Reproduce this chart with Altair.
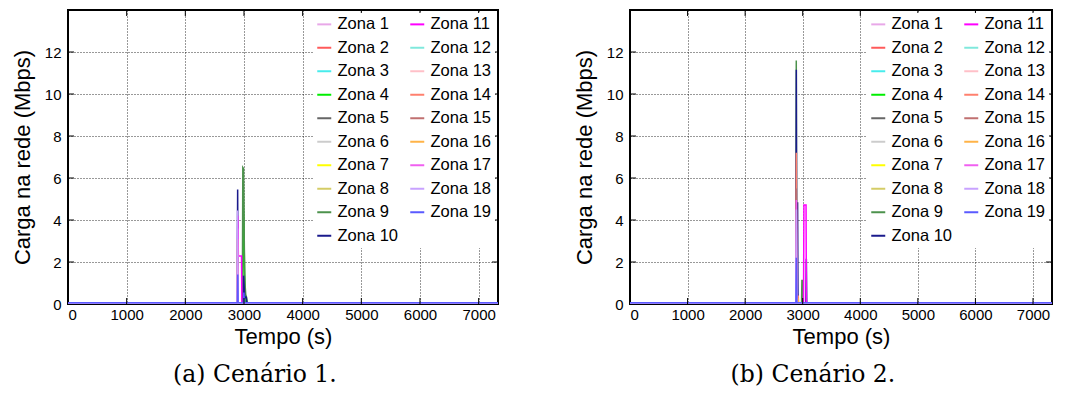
import altair as alt
import pandas as pd

# Eixos
T_MAX = 7330
X_TICKS = [0, 1000, 2000, 3000, 4000, 5000, 6000, 7000]
Y_TICKS = [0, 2, 4, 6, 8, 10, 12]
Y_MAX = 14

ZONAS = [f"Zona {i}" for i in range(1, 20)]
CORES = [
    "#e8a8e8", "#ff5a5a", "#48ecec", "#00ee00", "#666666",
    "#cccccc", "#ffff00", "#d4cc66", "#4c924c", "#1a1a8c",
    "#ff00ff", "#80e8dc", "#ffc0c8", "#ff806e", "#c07070",
    "#ffb347", "#f060f0", "#c8a2ff", "#5a5aff",
]

# Cenário 1: (tempos em s, carga em Mbps) por zona
CENARIO_1 = {
    "Zona 1": ([0, 2884, 2891, 2898, 7330], [0.03, 0.03, 1.0, 0.03, 0.03]),
    "Zona 2": ([0, 2886, 2892, 2899, 7330], [0.04, 0.04, 0.7, 0.04, 0.04]),
    "Zona 3": ([0, 2988, 2995, 3002, 7330], [0.02, 0.02, 0.3, 0.02, 0.02]),
    "Zona 4": ([0, 2978, 2988, 2998, 3008, 3020, 7330], [0.03, 0.03, 4.6, 3.9, 1.9, 0.03, 0.03]),
    "Zona 5": ([0, 2988, 2996, 3004, 7330], [0.02, 0.02, 0.8, 0.02, 0.02]),
    "Zona 6": ([0, 7330], [0.02, 0.02]),
    "Zona 7": ([0, 7330], [0.03, 0.03]),
    "Zona 8": ([0, 2885, 2891, 2897, 7330], [0.02, 0.02, 2.6, 0.02, 0.02]),
    "Zona 9": ([0, 2972, 2980, 2992, 3000, 3006, 3012, 3020, 3030, 3045, 3060, 7330],
               [0.04, 0.04, 6.5, 6.45, 4.8, 2.7, 1.4, 0.85, 0.45, 0.3, 0.04, 0.04]),
    "Zona 10": ([0, 2884, 2892, 2899, 2985, 2993, 3002, 3012, 3030, 3038, 3046, 7330],
                [0.06, 0.06, 5.45, 0.06, 0.06, 1.35, 0.9, 0.3, 0.3, 0.35, 0.06, 0.06]),
    "Zona 11": ([0, 2885, 2894, 2904, 2958, 2964, 7330], [0.04, 0.04, 4.2, 2.28, 2.28, 0.04, 0.04]),
    "Zona 12": ([0, 7330], [0.03, 0.03]),
    "Zona 13": ([0, 7330], [0.02, 0.02]),
    "Zona 14": ([0, 2886, 2892, 2898, 7330], [0.03, 0.03, 1.8, 0.03, 0.03]),
    "Zona 15": ([0, 7330], [0.02, 0.02]),
    "Zona 16": ([0, 2884, 2890, 2896, 7330], [0.05, 0.05, 3.1, 0.05, 0.05]),
    "Zona 17": ([0, 2886, 2893, 2900, 7330], [0.04, 0.04, 3.6, 0.04, 0.04]),
    "Zona 18": ([0, 2882, 2889, 2896, 7330], [0.03, 0.03, 4.45, 0.03, 0.03]),
    "Zona 19": ([0, 2888, 2894, 2900, 2990, 2998, 3006, 7330],
                [0.06, 0.06, 1.4, 0.06, 0.06, 0.55, 0.06, 0.06]),
}

# Cenário 2
CENARIO_2 = {
    "Zona 1": ([0, 2882, 2889, 2896, 7330], [0.03, 0.03, 3.0, 0.03, 0.03]),
    "Zona 2": ([0, 2886, 2894, 2902, 2912, 2920, 7330], [0.04, 0.04, 0.8, 0.04, 0.45, 0.04, 0.04]),
    "Zona 3": ([0, 7330], [0.02, 0.02]),
    "Zona 4": ([0, 2985, 2993, 3001, 7330], [0.03, 0.03, 0.7, 0.03, 0.03]),
    "Zona 5": ([0, 2895, 2902, 2909, 7330], [0.02, 0.02, 1.8, 0.02, 0.02]),
    "Zona 6": ([0, 7330], [0.02, 0.02]),
    "Zona 7": ([0, 7330], [0.03, 0.03]),
    "Zona 8": ([0, 7330], [0.02, 0.02]),
    "Zona 9": ([0, 2880, 2888, 2896, 2980, 2986, 3002, 3008, 7330],
               [0.04, 0.04, 11.6, 0.04, 0.04, 1.12, 1.12, 0.04, 0.04]),
    "Zona 10": ([0, 2881, 2889, 2897, 2904, 2911, 2918, 3056, 3063, 3070, 7330],
                [0.06, 0.06, 11.15, 0.06, 0.06, 4.85, 0.06, 0.06, 2.15, 0.06, 0.06]),
    "Zona 11": ([0, 3014, 3021, 3058, 3064, 7330], [0.04, 0.04, 4.72, 4.72, 0.04, 0.04]),
    "Zona 12": ([0, 7330], [0.03, 0.03]),
    "Zona 13": ([0, 7330], [0.02, 0.02]),
    "Zona 14": ([0, 2881, 2889, 2897, 2915, 2922, 2929, 7330],
                [0.03, 0.03, 7.2, 0.03, 0.03, 0.4, 0.03, 0.03]),
    "Zona 15": ([0, 2881, 2889, 2897, 7330], [0.02, 0.02, 5.5, 0.02, 0.02]),
    "Zona 16": ([0, 2912, 2919, 2926, 7330], [0.05, 0.05, 0.3, 0.05, 0.05]),
    "Zona 17": ([0, 2881, 2889, 2897, 7330], [0.04, 0.04, 4.95, 0.04, 0.04]),
    "Zona 18": ([0, 2882, 2890, 2898, 7330], [0.03, 0.03, 4.5, 0.03, 0.03]),
    "Zona 19": ([0, 2882, 2890, 2898, 7330], [0.06, 0.06, 2.2, 0.06, 0.06]),
}

SANS = "Liberation Sans"
SERIF = "DejaVu Serif"
ALTURA = 294


def tabela(series):
    linhas = []
    for zona in ZONAS:
        tempos, cargas = series[zona]
        for t, c in zip(tempos, cargas):
            linhas.append({"zona": zona, "tempo": t, "carga": c})
    return pd.DataFrame(linhas)


def painel(series, largura, legenda):
    x = alt.X("tempo:Q", scale=alt.Scale(domain=[0, T_MAX], nice=False, zero=False),
              axis=alt.Axis(values=X_TICKS, title="Tempo (s)", format="d"))
    y = alt.Y("carga:Q", scale=alt.Scale(domain=[0, Y_MAX], nice=False),
              axis=alt.Axis(values=Y_TICKS, title="Carga na rede (Mbps)"))

    linhas = alt.Chart(tabela(series)).mark_line(strokeWidth=1.5, clip=True).encode(
        x=x, y=y,
        color=alt.Color("zona:N", sort=ZONAS,
                        scale=alt.Scale(domain=ZONAS, range=CORES),
                        legend=legenda),
    )

    # marcas de escala internas nos quatro lados
    ty = pd.DataFrame({"carga": Y_TICKS[1:]})
    tx = pd.DataFrame({"tempo": X_TICKS[1:]})
    esq = alt.Chart(ty).mark_rule(color="black", strokeWidth=1).encode(
        y="carga:Q", x=alt.value(0), x2=alt.value(6))
    dir_ = alt.Chart(ty).mark_rule(color="black", strokeWidth=1).encode(
        y="carga:Q", x=alt.value(largura - 6), x2=alt.value(largura))
    baixo = alt.Chart(tx).mark_rule(color="black", strokeWidth=1).encode(
        x="tempo:Q", y=alt.value(ALTURA - 6), y2=alt.value(ALTURA))
    topo = alt.Chart(tx).mark_rule(color="black", strokeWidth=1).encode(
        x="tempo:Q", y=alt.value(0), y2=alt.value(6))

    return alt.layer(linhas, esq, dir_, baixo, topo)


def legenda():
    return alt.Legend(
        title=None, orient="top-right", columns=2,
        symbolType="stroke", symbolSize=196, symbolStrokeWidth=2,
        labelFont=SANS, labelFontSize=16.5, labelColor="black",
        rowPadding=6.5, columnPadding=7, labelOffset=5,
        padding=3, offset=3, fillColor="white",
    )


def legenda_titulo(texto):
    return alt.TitleParams(texto, orient="bottom", anchor="middle", frame="bounds",
                           font=SERIF, fontSize=23.5, fontWeight="normal",
                           color="black", offset=16)


painel_a = painel(CENARIO_1, 430, legenda()).properties(
    width=430, height=ALTURA, title=legenda_titulo("(a) Cenário 1."))
painel_b = painel(CENARIO_2, 422, legenda()).properties(
    width=422, height=ALTURA, title=legenda_titulo("(b) Cenário 2."))

chart = (
    alt.hconcat(painel_a, painel_b, spacing=72)
    .resolve_scale(color="independent")
    .resolve_legend(color="independent")
    .properties(padding={"left": 10, "top": 8, "right": 0, "bottom": 0}, background="white")
    .configure_axis(
        labelFont=SANS, labelFontSize=15, labelColor="black",
        titleFont=SANS, titleFontSize=22, titleFontWeight="normal", titleColor="black",
        grid=True, gridColor="black", gridDash=[1, 2], gridOpacity=0.8, gridWidth=1,
        domain=False, ticks=False,
    )
    .configure_axisX(labelPadding=3, titlePadding=4)
    .configure_axisY(labelPadding=7, titlePadding=10)
    .configure_view(stroke="black", strokeWidth=2)
)

chart.save("out.html", embed_options={"renderer": "svg", "actions": False})
